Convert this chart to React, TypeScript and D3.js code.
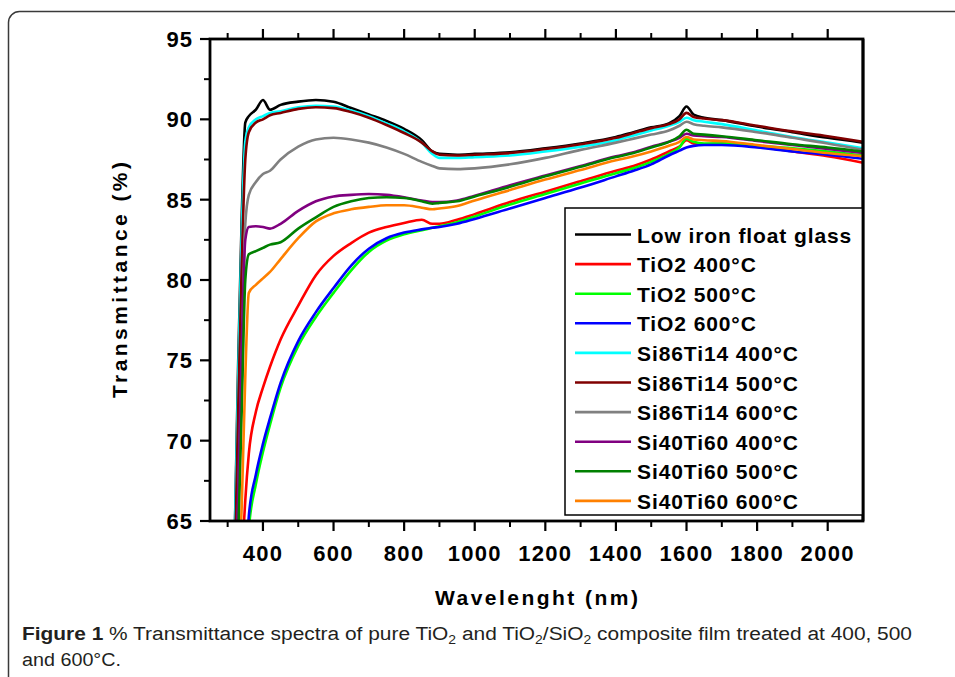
import React from "react";
import * as d3 from "d3";

const wavelengths = [300, 320, 330, 340, 350, 360, 380, 400, 420, 450, 500, 550, 600, 650, 700, 750, 800, 850, 880, 900, 950, 1000, 1100, 1200, 1300, 1400, 1450, 1500, 1550, 1580, 1600, 1620, 1650, 1700, 1800, 1900, 2000, 2100];

const lowIronGlass = [50, 64, 75, 84, 89.8, 90.2, 90.6, 91.2, 90.6, 90.9, 91.1, 91.2, 91.1, 90.7, 90.3, 89.9, 89.4, 88.7, 88.0, 87.85, 87.8, 87.85, 87.95, 88.2, 88.5, 88.9, 89.2, 89.5, 89.75, 90.2, 90.8, 90.3, 90.1, 89.95, 89.55, 89.2, 88.85, 88.55];
const tio2_400 = [40, 50, 55, 62, 66.3, 69.2, 71.8, 73.3, 74.6, 76.3, 78.4, 80.3, 81.5, 82.3, 82.95, 83.3, 83.55, 83.75, 83.5, 83.5, 83.75, 84.1, 84.85, 85.5, 86.15, 86.8, 87.1, 87.5, 88.0, 88.3, 88.7, 88.5, 88.45, 88.5, 88.3, 88.0, 87.7, 87.3];
const tio2_500 = [40, 48, 52, 55, 60, 64.5, 67.3, 69.3, 71.0, 73.3, 75.9, 77.7, 79.2, 80.6, 81.75, 82.45, 82.85, 83.1, 83.25, 83.35, 83.6, 83.95, 84.7, 85.35, 86.0, 86.65, 86.95, 87.35, 87.85, 88.25, 88.8, 88.6, 88.5, 88.5, 88.35, 88.2, 88.0, 87.75];
const tio2_600 = [40, 49, 53, 56, 61, 65.3, 67.9, 69.8, 71.4, 73.6, 76.2, 78.0, 79.5, 80.9, 81.95, 82.6, 82.95, 83.15, 83.25, 83.3, 83.5, 83.8, 84.45, 85.1, 85.75, 86.45, 86.8, 87.2, 87.75, 88.05, 88.25, 88.35, 88.4, 88.4, 88.25, 88.0, 87.8, 87.55];
const si86_400 = [50, 64, 74, 83, 88.6, 89.5, 90.0, 90.2, 90.4, 90.5, 90.75, 90.85, 90.8, 90.55, 90.2, 89.75, 89.25, 88.55, 87.85, 87.6, 87.6, 87.65, 87.75, 88.0, 88.3, 88.7, 89.0, 89.3, 89.6, 89.85, 90.1, 89.95, 89.85, 89.7, 89.3, 88.9, 88.55, 88.2];
const si86_500 = [50, 62, 72, 81, 87.5, 89.2, 89.8, 90.0, 90.25, 90.4, 90.65, 90.75, 90.7, 90.45, 90.1, 89.65, 89.15, 88.55, 88.0, 87.8, 87.75, 87.8, 87.9, 88.15, 88.45, 88.85, 89.15, 89.45, 89.7, 90.0, 90.4, 90.15, 90.05, 89.95, 89.6, 89.25, 88.95, 88.6];
const si86_600 = [50, 58, 66, 75, 83.5, 85.3, 86.1, 86.6, 86.8, 87.5, 88.3, 88.75, 88.85, 88.75, 88.55, 88.25, 87.85, 87.35, 87.1, 86.95, 86.9, 86.95, 87.2, 87.6, 88.1, 88.55, 88.8, 89.05, 89.3, 89.6, 89.85, 89.7, 89.6, 89.5, 89.2, 88.85, 88.5, 88.1];
const si40_400 = [50, 60, 67, 76, 82.5, 83.3, 83.35, 83.3, 83.2, 83.5, 84.3, 84.9, 85.2, 85.3, 85.35, 85.3, 85.15, 84.95, 84.85, 84.85, 84.95, 85.25, 85.9, 86.5, 87.1, 87.7, 87.95, 88.3, 88.6, 88.85, 89.1, 89.0, 88.95, 88.9, 88.65, 88.4, 88.15, 87.9];
const si40_500 = [50, 58, 64, 72, 80, 81.6, 81.8, 82.0, 82.2, 82.35, 83.2, 83.9, 84.55, 84.9, 85.1, 85.15, 85.1, 84.9, 84.75, 84.8, 84.9, 85.2, 85.8, 86.45, 87.05, 87.65, 87.9, 88.25, 88.6, 88.95, 89.35, 89.1, 89.05, 88.95, 88.7, 88.45, 88.25, 88.0];
const si40_600 = [50, 55, 60, 66, 74, 79.2, 79.7, 80.1, 80.5, 81.3, 82.6, 83.65, 84.15, 84.4, 84.55, 84.65, 84.65, 84.5, 84.4, 84.45, 84.6, 84.95, 85.6, 86.25, 86.85, 87.45, 87.7, 88.0, 88.35, 88.6, 88.9, 88.75, 88.7, 88.65, 88.4, 88.15, 87.9, 87.7];

const seriesNames = ["Low iron float glass", "TiO2 400°C", "TiO2 500°C", "TiO2 600°C", "Si86Ti14 400°C", "Si86Ti14 500°C", "Si86Ti14 600°C", "Si40Ti60 400°C", "Si40Ti60 500°C", "Si40Ti60 600°C"];
const seriesValues = [lowIronGlass, tio2_400, tio2_500, tio2_600, si86_400, si86_500, si86_600, si40_400, si40_500, si40_600];
const seriesColors = ["#000000", "#ff0000", "#00ff00", "#0000ff", "#00ffff", "#800000", "#808080", "#800080", "#008000", "#ff8000"];

const xTickLabels = [400, 600, 800, 1000, 1200, 1400, 1600, 1800, 2000];
const xMinorTicks = [300, 500, 700, 900, 1100, 1300, 1500, 1700, 1900];
const yTickLabels = [65, 70, 75, 80, 85, 90, 95];
const yMinorTicks = [67.5, 72.5, 77.5, 82.5, 87.5, 92.5];

const FONT = "'Liberation Sans', Arial, sans-serif";

export default function App() {
  const left = 210, right = 863, top = 39, bottom = 521;
  const x = d3.scaleLinear().domain([250, 2100]).range([left, right]);
  const y = d3.scaleLinear().domain([65, 95]).range([bottom, top]);

  const line = d3
    .line<number>()
    .x((_, i) => x(wavelengths[i]))
    .y((d) => y(d))
    .curve(d3.curveMonotoneX);

  const legendX = 565, legendY = 208, legendW = 298, legendH = 307;

  return (
    <svg width={955} height={677} style={{ position: "absolute", left: 0, top: 0, background: "#fff" }}>
      <rect x={8.5} y={11.5} width={1100} height={1100} rx={11} fill="#fff" stroke="#3a3a3a" strokeWidth={1.5} />
      <defs>
        <clipPath id="plotClip">
          <rect x={left} y={top} width={right - left} height={bottom - top} />
        </clipPath>
      </defs>

      <g clipPath="url(#plotClip)">
        {seriesValues.map((vals, i) => (
          <path key={i} d={line(vals) || ""} fill="none" stroke={seriesColors[i]} strokeWidth={2.6} strokeLinejoin="round" />
        ))}
      </g>

      {/* x ticks bottom & top */}
      {xTickLabels.map((t) => (
        <g key={"xt" + t}>
          <line x1={x(t)} x2={x(t)} y1={bottom} y2={bottom + 10} stroke="#000" strokeWidth={2.2} />
          <line x1={x(t)} x2={x(t)} y1={top} y2={top - 10} stroke="#000" strokeWidth={2.2} />
          <text x={x(t)} y={561} textAnchor="middle" fontFamily={FONT} fontWeight="bold" fontSize={22} letterSpacing={1.3}>
            {t}
          </text>
        </g>
      ))}
      {xMinorTicks.map((t) => (
        <g key={"xm" + t}>
          <line x1={x(t)} x2={x(t)} y1={bottom} y2={bottom + 6} stroke="#000" strokeWidth={2} />
          <line x1={x(t)} x2={x(t)} y1={top} y2={top - 6} stroke="#000" strokeWidth={2} />
        </g>
      ))}
      {yTickLabels.map((t) => (
        <g key={"yt" + t}>
          <line x1={left} x2={left - 10} y1={y(t)} y2={y(t)} stroke="#000" strokeWidth={2.2} />
          <text x={193} y={y(t) + 8} textAnchor="end" fontFamily={FONT} fontWeight="bold" fontSize={22} letterSpacing={1}>
            {t}
          </text>
        </g>
      ))}
      {yMinorTicks.map((t) => (
        <line key={"ym" + t} x1={left} x2={left - 6} y1={y(t)} y2={y(t)} stroke="#000" strokeWidth={2} />
      ))}

      <rect x={left} y={top} width={right - left} height={bottom - top} fill="none" stroke="#000" strokeWidth={2.8} />

      {/* legend */}
      <rect x={legendX} y={legendY} width={legendW} height={legendH} fill="#fff" stroke="#000" strokeWidth={1.5} />
      {seriesNames.map((name, i) => {
        const by = 242.5 + i * 29.6;
        return (
          <g key={name}>
            <line x1={575} x2={631} y1={by - 8} y2={by - 8} stroke={seriesColors[i]} strokeWidth={2.6} />
            <text x={637} y={by} fontFamily={FONT} fontWeight="bold" fontSize={21} letterSpacing={0.9}>
              {name}
            </text>
          </g>
        );
      })}
      <line x1={right} x2={right} y1={top} y2={bottom} stroke="#000" strokeWidth={2.8} />

      {/* axis titles */}
      <text
        transform="translate(127,280) rotate(-90)"
        textAnchor="middle"
        fontFamily={FONT}
        fontWeight="bold"
        fontSize={21}
        textLength={236}
        lengthAdjust="spacing"
      >
        Transmittance (%)
      </text>
      <text x={536.5} y={605} textAnchor="middle" fontFamily={FONT} fontWeight="bold" fontSize={21} textLength={203} lengthAdjust="spacing">
        Wavelenght (nm)
      </text>

      {/* caption */}
      <text x={22} y={640} fontFamily="'Liberation Sans Narrow', 'Liberation Sans', Arial, sans-serif" fontSize={18} fill="#231f20" textLength={890} lengthAdjust="spacingAndGlyphs">
        <tspan fontWeight="bold">Figure 1</tspan>
        <tspan> % Transmittance spectra of pure TiO</tspan>
        <tspan fontSize={12} dy={4}>2</tspan>
        <tspan dy={-4}> and TiO</tspan>
        <tspan fontSize={12} dy={4}>2</tspan>
        <tspan dy={-4}>/SiO</tspan>
        <tspan fontSize={12} dy={4}>2</tspan>
        <tspan dy={-4}> composite film treated at 400, 500</tspan>
      </text>
      <text x={22} y={666} fontFamily="'Liberation Sans Narrow', 'Liberation Sans', Arial, sans-serif" fontSize={18} fill="#231f20" textLength={99} lengthAdjust="spacingAndGlyphs">
        and 600°C.
      </text>
    </svg>
  );
}
